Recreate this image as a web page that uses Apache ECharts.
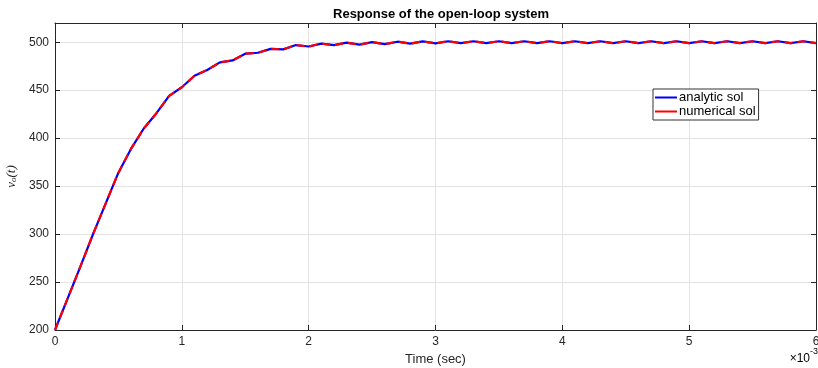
<!DOCTYPE html>
<html><head><meta charset="utf-8">
<script src="https://cdn.jsdelivr.net/npm/echarts@6/dist/echarts.min.js"></script>
<style>html,body{margin:0;padding:0;background:#fff}#c{width:818px;height:368px}</style>
</head><body><div id="c"></div>
<script>
// time in units of 1e-3 s
const timeMs = [0.0,0.1,0.2,0.3,0.4,0.5,0.6,0.7,0.8,0.9,1.0,1.1,1.2,1.3,1.4,1.5,1.6,1.7,1.8,1.9,2.0,2.1,2.2,2.3,2.4,2.5,2.6,2.7,2.8,2.9,3.0,3.1,3.2,3.3,3.4,3.5,3.6,3.7,3.8,3.9,4.0,4.1,4.2,4.3,4.4,4.5,4.6,4.7,4.8,4.9,5.0,5.1,5.2,5.3,5.4,5.5,5.6,5.7,5.8,5.9,6.0];
const analyticSol = [200,233,266,300,332,364,389,410,426,444,453,465,471,479,481,488,489,493,492.5,497,495.5,498.5,497,499.5,497.5,500,498,500.5,498.5,500.8,498.8,501,499,501,499,501,499,501,499,501,499,501,499,501,499,501,499,501,499,501,499,501,499,501,499,501,499,501,499,501,499];
const numericalSol = [200,233,266,300,332,364,389,410,426,444,453,465,471,479,481,488,489,493,492.5,497,495.5,498.5,497,499.5,497.5,500,498,500.5,498.5,500.8,498.8,501,499,501,499,501,499,501,499,501,499,501,499,501,499,501,499,501,499,501,499,501,499,501,499,501,499,501,499,501,499];
const xTicksMs = [0,1,2,3,4,5,6];
const yTicks = [200,250,300,350,400,450,500];
const titleText = 'Response of the open-loop system';
const xName = 'Time (sec)';
const seriesNames = ['analytic sol','numerical sol'];

const FONT = '"Liberation Sans", Arial, Helvetica, sans-serif';
const AX = '#262626';
const toPairs = (vals) => timeMs.map((t, i) => [t * 1e-3, vals[i]]);

const chart = echarts.init(document.getElementById('c'), null, {renderer: 'canvas'});
const xBase = {
  type: 'value', min: xTicksMs[0] * 1e-3, max: xTicksMs[xTicksMs.length - 1] * 1e-3, interval: 1e-3,
  axisLine: {show: true, onZero: false, lineStyle: {color: AX, width: 1}},
  axisTick: {show: true, inside: true, length: 5, lineStyle: {color: AX}},
};
const yBase = {
  type: 'value', min: yTicks[0], max: 520, interval: 50,
  axisLine: {show: true, onZero: false, lineStyle: {color: AX, width: 1}},
  axisTick: {show: true, inside: true, length: 5, lineStyle: {color: AX}},
};
chart.setOption({
  animation: false,
  backgroundColor: '#fff',
  title: {
    text: titleText, left: 436, top: 3, textAlign: 'center',
    textStyle: {fontFamily: FONT, fontSize: 13, fontWeight: 'bold', color: '#000'}
  },
  grid: {left: 55, right: 2, top: 23, bottom: 38, containLabel: false, outerBoundsMode: 'none'},
  legend: {
    orient: 'vertical', left: 653, top: 89,
    backgroundColor: '#fff', borderColor: '#333', borderWidth: 1, borderRadius: 0,
    padding: [2, 3, 2, 2], itemGap: 1, itemWidth: 22, itemHeight: 2,
    textStyle: {fontFamily: FONT, fontSize: 13, color: '#000', padding: [0, 0, 0, -3]},
    data: [
      {name: seriesNames[0], icon: 'rect', itemStyle: {color: '#0000ff'}},
      {name: seriesNames[1], icon: 'rect', itemStyle: {color: '#ff0000'}}
    ]
  },
  xAxis: [
    Object.assign({}, xBase, {
      position: 'bottom',
      axisLabel: {show: true, fontFamily: FONT, fontSize: 12, color: AX, margin: 6,
        formatter: (v) => String(Math.round(v * 1000))},
      splitLine: {show: true, lineStyle: {color: '#e3e3e3', width: 1}},
      name: xName, nameLocation: 'middle', nameGap: 21,
      nameTextStyle: {fontFamily: FONT, fontSize: 13, color: AX}
    }),
    Object.assign({}, xBase, {position: 'top', axisLabel: {show: false}, splitLine: {show: false}})
  ],
  yAxis: [
    Object.assign({}, yBase, {
      position: 'left',
      axisLabel: {show: true, fontFamily: FONT, fontSize: 12, color: AX, margin: 6,
        formatter: (v) => (yTicks.indexOf(v) >= 0 ? String(v) : '')},
      splitLine: {show: true, lineStyle: {color: '#e3e3e3', width: 1}},
      name: '{i|v}{s|o}{i|(t)}', nameLocation: 'middle', nameGap: 33, nameRotate: 90,
      nameTextStyle: {
        fontFamily: 'DejaVu Serif, serif', fontSize: 12, color: AX,
        rich: {
          i: {fontFamily: '"Liberation Serif", serif', fontStyle: 'italic', fontSize: 13, color: AX},
          s: {fontFamily: '"Liberation Serif", serif', fontStyle: 'italic', fontSize: 9, color: AX, verticalAlign: 'bottom', padding: [4, 0, 0, 0]}
        }
      }
    }),
    Object.assign({}, yBase, {position: 'right', axisLabel: {show: false}, splitLine: {show: false}})
  ],
  graphic: [{
    type: 'text', right: 0, top: 347,
    style: {
      text: '{a|×10}{b|-3}',
      rich: {
        a: {fontFamily: FONT, fontSize: 12, color: AX, padding: [6, 0, 0, 0]},
        b: {fontFamily: FONT, fontSize: 9, color: AX, verticalAlign: 'top', padding: [0, 0, 8, 0]}
      }
    }
  }],
  series: [
    {
      name: seriesNames[0], type: 'line', data: toPairs(analyticSol),
      symbol: 'none', showSymbol: false, z: 2,
      lineStyle: {color: '#0000ff', width: 2.2, type: 'solid'},
      itemStyle: {color: '#0000ff'}
    },
    {
      name: seriesNames[1], type: 'line', data: toPairs(numericalSol),
      symbol: 'none', showSymbol: false, z: 3,
      lineStyle: {color: '#ff0000', width: 2.2, type: [8, 5]},
      itemStyle: {color: '#ff0000'}
    }
  ]
});
</script></body></html>
